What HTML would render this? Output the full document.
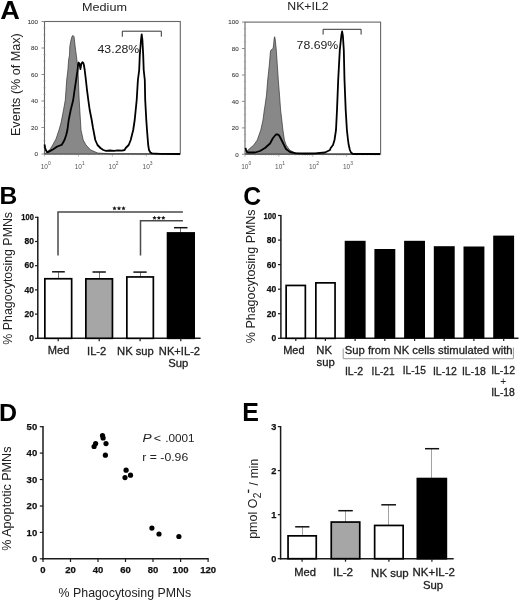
<!DOCTYPE html>
<html><head><meta charset="utf-8"><style>
html,body{margin:0;padding:0;background:#fff;width:520px;height:601px;overflow:hidden;position:relative;font-family:"Liberation Sans", sans-serif;}
</style></head><body>
<svg width="520" height="601" viewBox="0 0 520 601" style="position:absolute;left:0;top:0;filter:grayscale(1)">
<g font-family='"Liberation Sans", sans-serif'>
<rect x="44.5" y="21.5" width="135.8" height="132.5" fill="none" stroke="#666" stroke-width="1.1"/>
<line x1="43.3" y1="28.1" x2="45.7" y2="28.1" stroke="#999" stroke-width="0.6"/>
<line x1="43.3" y1="34.8" x2="45.7" y2="34.8" stroke="#999" stroke-width="0.6"/>
<line x1="43.3" y1="41.4" x2="45.7" y2="41.4" stroke="#999" stroke-width="0.6"/>
<line x1="43.3" y1="54.6" x2="45.7" y2="54.6" stroke="#999" stroke-width="0.6"/>
<line x1="43.3" y1="61.2" x2="45.7" y2="61.2" stroke="#999" stroke-width="0.6"/>
<line x1="43.3" y1="67.9" x2="45.7" y2="67.9" stroke="#999" stroke-width="0.6"/>
<line x1="43.3" y1="81.1" x2="45.7" y2="81.1" stroke="#999" stroke-width="0.6"/>
<line x1="43.3" y1="87.8" x2="45.7" y2="87.8" stroke="#999" stroke-width="0.6"/>
<line x1="43.3" y1="94.4" x2="45.7" y2="94.4" stroke="#999" stroke-width="0.6"/>
<line x1="43.3" y1="107.6" x2="45.7" y2="107.6" stroke="#999" stroke-width="0.6"/>
<line x1="43.3" y1="114.2" x2="45.7" y2="114.2" stroke="#999" stroke-width="0.6"/>
<line x1="43.3" y1="120.9" x2="45.7" y2="120.9" stroke="#999" stroke-width="0.6"/>
<line x1="43.3" y1="134.1" x2="45.7" y2="134.1" stroke="#999" stroke-width="0.6"/>
<line x1="43.3" y1="140.8" x2="45.7" y2="140.8" stroke="#999" stroke-width="0.6"/>
<line x1="43.3" y1="147.4" x2="45.7" y2="147.4" stroke="#999" stroke-width="0.6"/>
<line x1="41.5" y1="21.5" x2="44.5" y2="21.5" stroke="#808080" stroke-width="0.9"/>
<text x="38.00" y="23.80" font-size="6.2" fill="#444" text-anchor="end" stroke="#444" stroke-width="0.12">100</text>
<line x1="41.5" y1="48.0" x2="44.5" y2="48.0" stroke="#808080" stroke-width="0.9"/>
<text x="38.00" y="50.30" font-size="6.2" fill="#444" text-anchor="end" stroke="#444" stroke-width="0.12">80</text>
<line x1="41.5" y1="74.5" x2="44.5" y2="74.5" stroke="#808080" stroke-width="0.9"/>
<text x="38.00" y="76.80" font-size="6.2" fill="#444" text-anchor="end" stroke="#444" stroke-width="0.12">60</text>
<line x1="41.5" y1="101.0" x2="44.5" y2="101.0" stroke="#808080" stroke-width="0.9"/>
<text x="38.00" y="103.30" font-size="6.2" fill="#444" text-anchor="end" stroke="#444" stroke-width="0.12">40</text>
<line x1="41.5" y1="127.5" x2="44.5" y2="127.5" stroke="#808080" stroke-width="0.9"/>
<text x="38.00" y="129.80" font-size="6.2" fill="#444" text-anchor="end" stroke="#444" stroke-width="0.12">20</text>
<line x1="41.5" y1="154.0" x2="44.5" y2="154.0" stroke="#808080" stroke-width="0.9"/>
<text x="38.00" y="156.30" font-size="6.2" fill="#444" text-anchor="end" stroke="#444" stroke-width="0.12">0</text>
<line x1="44.5" y1="154" x2="44.5" y2="156.5" stroke="#999" stroke-width="0.7"/>
<line x1="54.7" y1="154" x2="54.7" y2="155.2" stroke="#999" stroke-width="0.7"/>
<line x1="60.7" y1="154" x2="60.7" y2="155.2" stroke="#999" stroke-width="0.7"/>
<line x1="64.9" y1="154" x2="64.9" y2="155.2" stroke="#999" stroke-width="0.7"/>
<line x1="68.2" y1="154" x2="68.2" y2="155.2" stroke="#999" stroke-width="0.7"/>
<line x1="70.9" y1="154" x2="70.9" y2="155.2" stroke="#999" stroke-width="0.7"/>
<line x1="73.2" y1="154" x2="73.2" y2="155.2" stroke="#999" stroke-width="0.7"/>
<line x1="75.2" y1="154" x2="75.2" y2="155.2" stroke="#999" stroke-width="0.7"/>
<line x1="76.9" y1="154" x2="76.9" y2="155.2" stroke="#999" stroke-width="0.7"/>
<line x1="78.5" y1="154" x2="78.5" y2="156.5" stroke="#999" stroke-width="0.7"/>
<line x1="88.7" y1="154" x2="88.7" y2="155.2" stroke="#999" stroke-width="0.7"/>
<line x1="94.6" y1="154" x2="94.6" y2="155.2" stroke="#999" stroke-width="0.7"/>
<line x1="98.9" y1="154" x2="98.9" y2="155.2" stroke="#999" stroke-width="0.7"/>
<line x1="102.2" y1="154" x2="102.2" y2="155.2" stroke="#999" stroke-width="0.7"/>
<line x1="104.9" y1="154" x2="104.9" y2="155.2" stroke="#999" stroke-width="0.7"/>
<line x1="107.1" y1="154" x2="107.1" y2="155.2" stroke="#999" stroke-width="0.7"/>
<line x1="109.1" y1="154" x2="109.1" y2="155.2" stroke="#999" stroke-width="0.7"/>
<line x1="110.8" y1="154" x2="110.8" y2="155.2" stroke="#999" stroke-width="0.7"/>
<line x1="112.4" y1="154" x2="112.4" y2="156.5" stroke="#999" stroke-width="0.7"/>
<line x1="122.6" y1="154" x2="122.6" y2="155.2" stroke="#999" stroke-width="0.7"/>
<line x1="128.6" y1="154" x2="128.6" y2="155.2" stroke="#999" stroke-width="0.7"/>
<line x1="132.8" y1="154" x2="132.8" y2="155.2" stroke="#999" stroke-width="0.7"/>
<line x1="136.1" y1="154" x2="136.1" y2="155.2" stroke="#999" stroke-width="0.7"/>
<line x1="138.8" y1="154" x2="138.8" y2="155.2" stroke="#999" stroke-width="0.7"/>
<line x1="141.1" y1="154" x2="141.1" y2="155.2" stroke="#999" stroke-width="0.7"/>
<line x1="143.1" y1="154" x2="143.1" y2="155.2" stroke="#999" stroke-width="0.7"/>
<line x1="144.8" y1="154" x2="144.8" y2="155.2" stroke="#999" stroke-width="0.7"/>
<line x1="146.4" y1="154" x2="146.4" y2="156.5" stroke="#999" stroke-width="0.7"/>
<line x1="156.6" y1="154" x2="156.6" y2="155.2" stroke="#999" stroke-width="0.7"/>
<line x1="162.5" y1="154" x2="162.5" y2="155.2" stroke="#999" stroke-width="0.7"/>
<line x1="166.8" y1="154" x2="166.8" y2="155.2" stroke="#999" stroke-width="0.7"/>
<line x1="170.1" y1="154" x2="170.1" y2="155.2" stroke="#999" stroke-width="0.7"/>
<line x1="172.8" y1="154" x2="172.8" y2="155.2" stroke="#999" stroke-width="0.7"/>
<line x1="175.0" y1="154" x2="175.0" y2="155.2" stroke="#999" stroke-width="0.7"/>
<line x1="177.0" y1="154" x2="177.0" y2="155.2" stroke="#999" stroke-width="0.7"/>
<line x1="178.7" y1="154" x2="178.7" y2="155.2" stroke="#999" stroke-width="0.7"/>
<text x="40.7" y="168.5" font-size="6.5" fill="#555">10<tspan dy="-3.5" font-size="5">0</tspan></text>
<text x="74.7" y="168.5" font-size="6.5" fill="#555">10<tspan dy="-3.5" font-size="5">1</tspan></text>
<text x="108.6" y="168.5" font-size="6.5" fill="#555">10<tspan dy="-3.5" font-size="5">2</tspan></text>
<text x="142.6" y="168.5" font-size="6.5" fill="#555">10<tspan dy="-3.5" font-size="5">3</tspan></text>
<polygon points="44.50,154.00 46.00,152.50 50.00,149.50 52.70,145.00 56.00,139.00 59.00,130.00 61.00,123.00 63.50,110.00 65.30,100.00 66.70,80.00 67.90,70.00 68.60,60.00 69.50,55.00 69.80,46.50 71.00,40.00 72.20,36.00 73.00,35.40 74.00,36.50 75.20,46.50 76.90,60.00 78.00,70.00 79.20,100.00 79.80,110.00 81.00,130.00 83.20,140.00 86.00,145.00 90.70,150.00 97.70,153.00 110.00,153.80 180.00,154.00" fill="#888" stroke="#333" stroke-width="0.7" stroke-linejoin="round"/>
<polyline points="44.50,144.50 45.20,148.00 45.70,149.80 46.80,151.80 47.75,152.30 49.80,151.10 53.20,149.20 57.30,146.50 61.60,144.90 62.80,143.00 64.50,140.00 66.20,135.00 67.40,130.00 68.70,120.00 70.70,110.00 73.20,100.00 74.60,90.00 76.10,80.00 77.60,70.00 78.10,64.50 78.60,62.50 79.60,64.00 80.40,69.00 81.30,64.00 82.40,62.20 83.30,63.00 83.90,65.00 84.70,70.00 85.90,80.00 87.00,90.00 88.30,100.00 89.70,110.00 91.70,120.00 93.00,128.00 93.40,130.00 95.30,140.00 97.50,145.00 100.40,148.00 103.30,150.00 106.00,150.80 110.00,150.50 114.00,150.80 118.00,150.30 122.00,150.60 124.60,150.00 125.70,148.00 128.70,145.00 130.70,140.00 133.20,130.00 134.70,120.00 136.70,100.00 137.90,80.00 139.20,70.00 139.80,55.00 141.00,40.00 141.70,34.40 142.40,40.00 143.20,55.00 143.70,70.00 144.80,80.00 145.20,100.00 146.30,120.00 147.00,130.00 147.80,140.00 148.20,145.00 149.00,150.00 150.40,152.50 152.00,153.40 160.00,153.80 180.00,154.00" fill="none" stroke="#000" stroke-width="1.8" stroke-linejoin="round"/>
<polyline points="122.3,36.7 122.3,31.2 161.3,31.2 161.3,36.7" fill="none" stroke="#333" stroke-width="1"/>
<rect x="245.0" y="22.1" width="135.60000000000002" height="132.20000000000002" fill="none" stroke="#666" stroke-width="1.1"/>
<line x1="243.8" y1="28.7" x2="246.2" y2="28.7" stroke="#999" stroke-width="0.6"/>
<line x1="243.8" y1="35.3" x2="246.2" y2="35.3" stroke="#999" stroke-width="0.6"/>
<line x1="243.8" y1="41.9" x2="246.2" y2="41.9" stroke="#999" stroke-width="0.6"/>
<line x1="243.8" y1="55.2" x2="246.2" y2="55.2" stroke="#999" stroke-width="0.6"/>
<line x1="243.8" y1="61.8" x2="246.2" y2="61.8" stroke="#999" stroke-width="0.6"/>
<line x1="243.8" y1="68.4" x2="246.2" y2="68.4" stroke="#999" stroke-width="0.6"/>
<line x1="243.8" y1="81.6" x2="246.2" y2="81.6" stroke="#999" stroke-width="0.6"/>
<line x1="243.8" y1="88.2" x2="246.2" y2="88.2" stroke="#999" stroke-width="0.6"/>
<line x1="243.8" y1="94.8" x2="246.2" y2="94.8" stroke="#999" stroke-width="0.6"/>
<line x1="243.8" y1="108.0" x2="246.2" y2="108.0" stroke="#999" stroke-width="0.6"/>
<line x1="243.8" y1="114.6" x2="246.2" y2="114.6" stroke="#999" stroke-width="0.6"/>
<line x1="243.8" y1="121.2" x2="246.2" y2="121.2" stroke="#999" stroke-width="0.6"/>
<line x1="243.8" y1="134.5" x2="246.2" y2="134.5" stroke="#999" stroke-width="0.6"/>
<line x1="243.8" y1="141.1" x2="246.2" y2="141.1" stroke="#999" stroke-width="0.6"/>
<line x1="243.8" y1="147.7" x2="246.2" y2="147.7" stroke="#999" stroke-width="0.6"/>
<line x1="242.0" y1="22.1" x2="245.0" y2="22.1" stroke="#808080" stroke-width="0.9"/>
<text x="238.60" y="24.40" font-size="6.2" fill="#444" text-anchor="end" stroke="#444" stroke-width="0.12">100</text>
<line x1="242.0" y1="48.5" x2="245.0" y2="48.5" stroke="#808080" stroke-width="0.9"/>
<text x="238.60" y="50.84" font-size="6.2" fill="#444" text-anchor="end" stroke="#444" stroke-width="0.12">80</text>
<line x1="242.0" y1="75.0" x2="245.0" y2="75.0" stroke="#808080" stroke-width="0.9"/>
<text x="238.60" y="77.28" font-size="6.2" fill="#444" text-anchor="end" stroke="#444" stroke-width="0.12">60</text>
<line x1="242.0" y1="101.4" x2="245.0" y2="101.4" stroke="#808080" stroke-width="0.9"/>
<text x="238.60" y="103.72" font-size="6.2" fill="#444" text-anchor="end" stroke="#444" stroke-width="0.12">40</text>
<line x1="242.0" y1="127.9" x2="245.0" y2="127.9" stroke="#808080" stroke-width="0.9"/>
<text x="238.60" y="130.16" font-size="6.2" fill="#444" text-anchor="end" stroke="#444" stroke-width="0.12">20</text>
<line x1="242.0" y1="154.3" x2="245.0" y2="154.3" stroke="#808080" stroke-width="0.9"/>
<text x="238.60" y="156.60" font-size="6.2" fill="#444" text-anchor="end" stroke="#444" stroke-width="0.12">0</text>
<line x1="245.0" y1="154.3" x2="245.0" y2="156.8" stroke="#999" stroke-width="0.7"/>
<line x1="255.2" y1="154.3" x2="255.2" y2="155.5" stroke="#999" stroke-width="0.7"/>
<line x1="261.2" y1="154.3" x2="261.2" y2="155.5" stroke="#999" stroke-width="0.7"/>
<line x1="265.4" y1="154.3" x2="265.4" y2="155.5" stroke="#999" stroke-width="0.7"/>
<line x1="268.7" y1="154.3" x2="268.7" y2="155.5" stroke="#999" stroke-width="0.7"/>
<line x1="271.4" y1="154.3" x2="271.4" y2="155.5" stroke="#999" stroke-width="0.7"/>
<line x1="273.6" y1="154.3" x2="273.6" y2="155.5" stroke="#999" stroke-width="0.7"/>
<line x1="275.6" y1="154.3" x2="275.6" y2="155.5" stroke="#999" stroke-width="0.7"/>
<line x1="277.3" y1="154.3" x2="277.3" y2="155.5" stroke="#999" stroke-width="0.7"/>
<line x1="278.9" y1="154.3" x2="278.9" y2="156.8" stroke="#999" stroke-width="0.7"/>
<line x1="289.1" y1="154.3" x2="289.1" y2="155.5" stroke="#999" stroke-width="0.7"/>
<line x1="295.1" y1="154.3" x2="295.1" y2="155.5" stroke="#999" stroke-width="0.7"/>
<line x1="299.3" y1="154.3" x2="299.3" y2="155.5" stroke="#999" stroke-width="0.7"/>
<line x1="302.6" y1="154.3" x2="302.6" y2="155.5" stroke="#999" stroke-width="0.7"/>
<line x1="305.3" y1="154.3" x2="305.3" y2="155.5" stroke="#999" stroke-width="0.7"/>
<line x1="307.5" y1="154.3" x2="307.5" y2="155.5" stroke="#999" stroke-width="0.7"/>
<line x1="309.5" y1="154.3" x2="309.5" y2="155.5" stroke="#999" stroke-width="0.7"/>
<line x1="311.2" y1="154.3" x2="311.2" y2="155.5" stroke="#999" stroke-width="0.7"/>
<line x1="312.8" y1="154.3" x2="312.8" y2="156.8" stroke="#999" stroke-width="0.7"/>
<line x1="323.0" y1="154.3" x2="323.0" y2="155.5" stroke="#999" stroke-width="0.7"/>
<line x1="329.0" y1="154.3" x2="329.0" y2="155.5" stroke="#999" stroke-width="0.7"/>
<line x1="333.2" y1="154.3" x2="333.2" y2="155.5" stroke="#999" stroke-width="0.7"/>
<line x1="336.5" y1="154.3" x2="336.5" y2="155.5" stroke="#999" stroke-width="0.7"/>
<line x1="339.2" y1="154.3" x2="339.2" y2="155.5" stroke="#999" stroke-width="0.7"/>
<line x1="341.4" y1="154.3" x2="341.4" y2="155.5" stroke="#999" stroke-width="0.7"/>
<line x1="343.4" y1="154.3" x2="343.4" y2="155.5" stroke="#999" stroke-width="0.7"/>
<line x1="345.1" y1="154.3" x2="345.1" y2="155.5" stroke="#999" stroke-width="0.7"/>
<line x1="346.7" y1="154.3" x2="346.7" y2="156.8" stroke="#999" stroke-width="0.7"/>
<line x1="356.9" y1="154.3" x2="356.9" y2="155.5" stroke="#999" stroke-width="0.7"/>
<line x1="362.9" y1="154.3" x2="362.9" y2="155.5" stroke="#999" stroke-width="0.7"/>
<line x1="367.1" y1="154.3" x2="367.1" y2="155.5" stroke="#999" stroke-width="0.7"/>
<line x1="370.4" y1="154.3" x2="370.4" y2="155.5" stroke="#999" stroke-width="0.7"/>
<line x1="373.1" y1="154.3" x2="373.1" y2="155.5" stroke="#999" stroke-width="0.7"/>
<line x1="375.3" y1="154.3" x2="375.3" y2="155.5" stroke="#999" stroke-width="0.7"/>
<line x1="377.3" y1="154.3" x2="377.3" y2="155.5" stroke="#999" stroke-width="0.7"/>
<line x1="379.0" y1="154.3" x2="379.0" y2="155.5" stroke="#999" stroke-width="0.7"/>
<text x="241.2" y="168.8" font-size="6.5" fill="#555">10<tspan dy="-3.5" font-size="5">0</tspan></text>
<text x="275.1" y="168.8" font-size="6.5" fill="#555">10<tspan dy="-3.5" font-size="5">1</tspan></text>
<text x="309.0" y="168.8" font-size="6.5" fill="#555">10<tspan dy="-3.5" font-size="5">2</tspan></text>
<text x="342.9" y="168.8" font-size="6.5" fill="#555">10<tspan dy="-3.5" font-size="5">3</tspan></text>
<polygon points="245.50,154.00 248.00,150.00 253.80,145.00 257.30,140.00 260.80,130.00 263.00,120.00 264.30,110.00 265.10,105.00 266.50,95.00 267.70,80.00 269.30,65.00 270.40,52.00 270.80,50.20 271.80,49.40 273.00,48.70 273.60,45.00 274.10,39.00 274.60,36.70 275.10,38.50 275.70,44.00 276.30,50.00 277.30,65.00 278.30,80.00 279.50,95.00 280.60,110.00 281.80,120.00 282.90,130.00 284.40,140.00 286.10,145.00 289.60,150.00 295.00,153.00 305.00,154.00 380.00,154.00" fill="#888" stroke="#333" stroke-width="0.7" stroke-linejoin="round"/>
<polyline points="245.50,148.00 246.50,151.50 248.00,152.50 255.00,152.50 260.00,151.00 265.00,148.00 270.00,143.50 273.00,138.00 276.00,134.50 277.50,134.30 279.00,135.20 280.00,137.00 283.00,143.00 286.00,149.00 290.00,152.00 296.00,153.30 305.00,153.50 315.00,153.30 325.00,152.50 330.00,150.00 330.70,148.00 333.00,145.00 334.50,140.00 336.00,130.00 337.00,110.00 338.20,80.00 339.80,50.00 341.30,36.00 342.10,31.50 342.90,36.00 343.80,50.00 344.50,80.00 345.70,110.00 346.90,130.00 348.00,140.00 348.70,145.00 349.90,150.00 351.00,152.50 353.00,154.00 380.00,154.00" fill="none" stroke="#000" stroke-width="1.8" stroke-linejoin="round"/>
<polyline points="323.1,34.6 323.1,29.3 361.1,29.3 361.1,34.6" fill="none" stroke="#333" stroke-width="1"/>
<line x1="37.8" y1="216.7" x2="37.8" y2="339.0" stroke="#1a1a1a" stroke-width="1.5"/>
<line x1="37.1" y1="338.3" x2="200.6" y2="338.3" stroke="#1a1a1a" stroke-width="1.4"/>
<line x1="35" y1="338.3" x2="37.8" y2="338.3" stroke="#1a1a1a" stroke-width="1.2"/>
<text x="33.90" y="340.90" font-size="8.5" font-weight="bold" fill="#111" text-anchor="end" stroke="#111" stroke-width="0.25">0</text>
<line x1="35" y1="314.1" x2="37.8" y2="314.1" stroke="#1a1a1a" stroke-width="1.2"/>
<text x="33.90" y="316.70" font-size="8.5" font-weight="bold" fill="#111" text-anchor="end" stroke="#111" stroke-width="0.25">20</text>
<line x1="35" y1="289.9" x2="37.8" y2="289.9" stroke="#1a1a1a" stroke-width="1.2"/>
<text x="33.90" y="292.50" font-size="8.5" font-weight="bold" fill="#111" text-anchor="end" stroke="#111" stroke-width="0.25">40</text>
<line x1="35" y1="265.7" x2="37.8" y2="265.7" stroke="#1a1a1a" stroke-width="1.2"/>
<text x="33.90" y="268.30" font-size="8.5" font-weight="bold" fill="#111" text-anchor="end" stroke="#111" stroke-width="0.25">60</text>
<line x1="35" y1="241.5" x2="37.8" y2="241.5" stroke="#1a1a1a" stroke-width="1.2"/>
<text x="33.90" y="244.10" font-size="8.5" font-weight="bold" fill="#111" text-anchor="end" stroke="#111" stroke-width="0.25">80</text>
<line x1="35" y1="217.3" x2="37.8" y2="217.3" stroke="#1a1a1a" stroke-width="1.2"/>
<text x="33.90" y="219.90" font-size="8.5" font-weight="bold" textLength="12.6" lengthAdjust="spacingAndGlyphs" fill="#111" text-anchor="end" stroke="#111" stroke-width="0.25">100</text>
<line x1="58.5" y1="271.8" x2="58.5" y2="278.9" stroke="#666" stroke-width="0.9"/>
<line x1="52.1" y1="271.8" x2="64.8" y2="271.8" stroke="#111" stroke-width="1.5"/>
<rect x="44.85" y="278.75" width="26.80" height="59.55" fill="#fff" stroke="#000" stroke-width="1.7"/>
<line x1="58.2" y1="338.3" x2="58.2" y2="341.3" stroke="#1a1a1a" stroke-width="1.2"/>
<line x1="99.5" y1="272.0" x2="99.5" y2="279.0" stroke="#666" stroke-width="0.9"/>
<line x1="92.5" y1="272.0" x2="105.8" y2="272.0" stroke="#111" stroke-width="1.5"/>
<rect x="85.85" y="278.85" width="26.60" height="59.45" fill="#a6a6a6" stroke="#000" stroke-width="1.7"/>
<line x1="99.2" y1="338.3" x2="99.2" y2="341.3" stroke="#1a1a1a" stroke-width="1.2"/>
<line x1="140.5" y1="272.1" x2="140.5" y2="277.1" stroke="#666" stroke-width="0.9"/>
<line x1="133.4" y1="272.1" x2="146.7" y2="272.1" stroke="#111" stroke-width="1.5"/>
<rect x="126.85" y="276.95" width="26.50" height="61.35" fill="#fff" stroke="#000" stroke-width="1.7"/>
<line x1="140.1" y1="338.3" x2="140.1" y2="341.3" stroke="#1a1a1a" stroke-width="1.2"/>
<line x1="180.5" y1="227.7" x2="180.5" y2="233.1" stroke="#666" stroke-width="0.9"/>
<line x1="174" y1="227.7" x2="187.5" y2="227.7" stroke="#111" stroke-width="1.5"/>
<rect x="167.55" y="232.95" width="26.60" height="105.35" fill="#000" stroke="#000" stroke-width="1.7"/>
<line x1="180.8" y1="338.3" x2="180.8" y2="341.3" stroke="#1a1a1a" stroke-width="1.2"/>
<polyline points="58,255.4 58,211.9 182.9,211.9" fill="none" stroke="#4a4a4a" stroke-width="1.5"/>
<polyline points="140.5,255.4 140.5,220.7 182.9,220.7" fill="none" stroke="#4a4a4a" stroke-width="1.5"/>
<polygon points="114.50,206.00 115.15,207.41 116.69,207.59 115.55,208.64 115.85,210.16 114.50,209.40 113.15,210.16 113.45,208.64 112.31,207.59 113.85,207.41" fill="#1a1a1a"/>
<polygon points="154.50,215.70 155.15,217.11 156.69,217.29 155.55,218.34 155.85,219.86 154.50,219.10 153.15,219.86 153.45,218.34 152.31,217.29 153.85,217.11" fill="#1a1a1a"/>
<polygon points="119.00,206.00 119.65,207.41 121.19,207.59 120.05,208.64 120.35,210.16 119.00,209.40 117.65,210.16 117.95,208.64 116.81,207.59 118.35,207.41" fill="#1a1a1a"/>
<polygon points="158.90,215.70 159.55,217.11 161.09,217.29 159.95,218.34 160.25,219.86 158.90,219.10 157.55,219.86 157.85,218.34 156.71,217.29 158.25,217.11" fill="#1a1a1a"/>
<polygon points="123.50,206.00 124.15,207.41 125.69,207.59 124.55,208.64 124.85,210.16 123.50,209.40 122.15,210.16 122.45,208.64 121.31,207.59 122.85,207.41" fill="#1a1a1a"/>
<polygon points="163.30,215.70 163.95,217.11 165.49,217.29 164.35,218.34 164.65,219.86 163.30,219.10 161.95,219.86 162.25,218.34 161.11,217.29 162.65,217.11" fill="#1a1a1a"/>
<line x1="280.9" y1="214.9" x2="280.9" y2="339.0" stroke="#1a1a1a" stroke-width="1.5"/>
<line x1="280.2" y1="338.3" x2="518.5" y2="338.3" stroke="#1a1a1a" stroke-width="1.4"/>
<line x1="278" y1="338.3" x2="280.9" y2="338.3" stroke="#1a1a1a" stroke-width="1.2"/>
<text x="276.20" y="341.30" font-size="8.5" font-weight="bold" fill="#111" text-anchor="end" stroke="#111" stroke-width="0.25">0</text>
<line x1="278" y1="313.7" x2="280.9" y2="313.7" stroke="#1a1a1a" stroke-width="1.2"/>
<text x="276.20" y="316.74" font-size="8.5" font-weight="bold" fill="#111" text-anchor="end" stroke="#111" stroke-width="0.25">20</text>
<line x1="278" y1="289.2" x2="280.9" y2="289.2" stroke="#1a1a1a" stroke-width="1.2"/>
<text x="276.20" y="292.18" font-size="8.5" font-weight="bold" fill="#111" text-anchor="end" stroke="#111" stroke-width="0.25">40</text>
<line x1="278" y1="264.6" x2="280.9" y2="264.6" stroke="#1a1a1a" stroke-width="1.2"/>
<text x="276.20" y="267.62" font-size="8.5" font-weight="bold" fill="#111" text-anchor="end" stroke="#111" stroke-width="0.25">60</text>
<line x1="278" y1="240.1" x2="280.9" y2="240.1" stroke="#1a1a1a" stroke-width="1.2"/>
<text x="276.20" y="243.06" font-size="8.5" font-weight="bold" fill="#111" text-anchor="end" stroke="#111" stroke-width="0.25">80</text>
<line x1="278" y1="215.5" x2="280.9" y2="215.5" stroke="#1a1a1a" stroke-width="1.2"/>
<text x="276.20" y="218.50" font-size="8.5" font-weight="bold" textLength="12.8" lengthAdjust="spacingAndGlyphs" fill="#111" text-anchor="end" stroke="#111" stroke-width="0.25">100</text>
<rect x="286.15" y="285.45" width="19.20" height="52.85" fill="#fff" stroke="#000" stroke-width="1.7"/>
<line x1="295.8" y1="338.3" x2="295.8" y2="341.1" stroke="#1a1a1a" stroke-width="1.2"/>
<rect x="315.85" y="282.85" width="19.20" height="55.45" fill="#fff" stroke="#000" stroke-width="1.7"/>
<line x1="325.4" y1="338.3" x2="325.4" y2="341.1" stroke="#1a1a1a" stroke-width="1.2"/>
<rect x="344.70" y="240.80" width="20.90" height="97.50" fill="#000"/>
<line x1="355.1" y1="338.3" x2="355.1" y2="341.1" stroke="#1a1a1a" stroke-width="1.2"/>
<rect x="374.40" y="249.00" width="20.90" height="89.30" fill="#000"/>
<line x1="384.8" y1="338.3" x2="384.8" y2="341.1" stroke="#1a1a1a" stroke-width="1.2"/>
<rect x="404.10" y="240.80" width="20.90" height="97.50" fill="#000"/>
<line x1="414.6" y1="338.3" x2="414.6" y2="341.1" stroke="#1a1a1a" stroke-width="1.2"/>
<rect x="433.80" y="246.20" width="20.90" height="92.10" fill="#000"/>
<line x1="444.2" y1="338.3" x2="444.2" y2="341.1" stroke="#1a1a1a" stroke-width="1.2"/>
<rect x="463.50" y="246.50" width="20.90" height="91.80" fill="#000"/>
<line x1="473.9" y1="338.3" x2="473.9" y2="341.1" stroke="#1a1a1a" stroke-width="1.2"/>
<rect x="493.20" y="235.60" width="20.90" height="102.70" fill="#000"/>
<line x1="503.7" y1="338.3" x2="503.7" y2="341.1" stroke="#1a1a1a" stroke-width="1.2"/>
<polyline points="343.2,348.5 343.2,358.7 513.4,358.7 513.4,347.5" fill="none" stroke="#999" stroke-width="1"/>
<text x="503.3" y="384.9" font-size="10.2" fill="#222" text-anchor="middle">+</text>
<line x1="43" y1="426.1" x2="43" y2="559.5" stroke="#1a1a1a" stroke-width="1.5"/>
<line x1="42.3" y1="558.8" x2="208.7" y2="558.8" stroke="#1a1a1a" stroke-width="1.4"/>
<line x1="39.8" y1="558.8" x2="43" y2="558.8" stroke="#1a1a1a" stroke-width="1.2"/>
<text x="37.20" y="562.15" font-size="9.5" font-weight="bold" fill="#111" text-anchor="end" stroke="#111" stroke-width="0.25">0</text>
<line x1="39.8" y1="532.4" x2="43" y2="532.4" stroke="#1a1a1a" stroke-width="1.2"/>
<text x="37.20" y="535.73" font-size="9.5" font-weight="bold" fill="#111" text-anchor="end" stroke="#111" stroke-width="0.25">10</text>
<line x1="39.8" y1="506.0" x2="43" y2="506.0" stroke="#1a1a1a" stroke-width="1.2"/>
<text x="37.20" y="509.31" font-size="9.5" font-weight="bold" fill="#111" text-anchor="end" stroke="#111" stroke-width="0.25">20</text>
<line x1="39.8" y1="479.5" x2="43" y2="479.5" stroke="#1a1a1a" stroke-width="1.2"/>
<text x="37.20" y="482.89" font-size="9.5" font-weight="bold" fill="#111" text-anchor="end" stroke="#111" stroke-width="0.25">30</text>
<line x1="39.8" y1="453.1" x2="43" y2="453.1" stroke="#1a1a1a" stroke-width="1.2"/>
<text x="37.20" y="456.47" font-size="9.5" font-weight="bold" fill="#111" text-anchor="end" stroke="#111" stroke-width="0.25">40</text>
<line x1="39.8" y1="426.7" x2="43" y2="426.7" stroke="#1a1a1a" stroke-width="1.2"/>
<text x="37.20" y="430.05" font-size="9.5" font-weight="bold" fill="#111" text-anchor="end" stroke="#111" stroke-width="0.25">50</text>
<line x1="43.0" y1="558.8" x2="43.0" y2="562.0" stroke="#1a1a1a" stroke-width="1.2"/>
<text x="42.95" y="573.30" font-size="9.5" font-weight="bold" fill="#111" text-anchor="middle" stroke="#111" stroke-width="0.25">0</text>
<line x1="70.5" y1="558.8" x2="70.5" y2="562.0" stroke="#1a1a1a" stroke-width="1.2"/>
<text x="70.47" y="573.30" font-size="9.5" font-weight="bold" fill="#111" text-anchor="middle" stroke="#111" stroke-width="0.25">20</text>
<line x1="98.0" y1="558.8" x2="98.0" y2="562.0" stroke="#1a1a1a" stroke-width="1.2"/>
<text x="97.99" y="573.30" font-size="9.5" font-weight="bold" fill="#111" text-anchor="middle" stroke="#111" stroke-width="0.25">40</text>
<line x1="125.5" y1="558.8" x2="125.5" y2="562.0" stroke="#1a1a1a" stroke-width="1.2"/>
<text x="125.51" y="573.30" font-size="9.5" font-weight="bold" fill="#111" text-anchor="middle" stroke="#111" stroke-width="0.25">60</text>
<line x1="153.0" y1="558.8" x2="153.0" y2="562.0" stroke="#1a1a1a" stroke-width="1.2"/>
<text x="153.03" y="573.30" font-size="9.5" font-weight="bold" fill="#111" text-anchor="middle" stroke="#111" stroke-width="0.25">80</text>
<line x1="180.6" y1="558.8" x2="180.6" y2="562.0" stroke="#1a1a1a" stroke-width="1.2"/>
<text x="180.55" y="573.30" font-size="9.5" font-weight="bold" fill="#111" text-anchor="middle" stroke="#111" stroke-width="0.25">100</text>
<line x1="208.1" y1="558.8" x2="208.1" y2="562.0" stroke="#1a1a1a" stroke-width="1.2"/>
<text x="208.07" y="573.30" font-size="9.5" font-weight="bold" fill="#111" text-anchor="middle" stroke="#111" stroke-width="0.25">120</text>
<circle cx="102.5" cy="435.6" r="2.6" fill="#000"/>
<circle cx="103.1" cy="437.9" r="2.6" fill="#000"/>
<circle cx="95.6" cy="443.6" r="2.6" fill="#000"/>
<circle cx="94.1" cy="446.5" r="2.6" fill="#000"/>
<circle cx="106" cy="443.6" r="2.6" fill="#000"/>
<circle cx="105.4" cy="455.2" r="2.6" fill="#000"/>
<circle cx="126.1" cy="470.2" r="2.6" fill="#000"/>
<circle cx="130.5" cy="475.2" r="2.6" fill="#000"/>
<circle cx="125" cy="477.6" r="2.6" fill="#000"/>
<circle cx="151.9" cy="528.1" r="2.6" fill="#000"/>
<circle cx="159" cy="534" r="2.6" fill="#000"/>
<circle cx="178.9" cy="536.5" r="2.6" fill="#000"/>
<line x1="280.6" y1="426.0" x2="280.6" y2="559.4" stroke="#1a1a1a" stroke-width="1.5"/>
<line x1="279.9" y1="558.7" x2="453.7" y2="558.7" stroke="#1a1a1a" stroke-width="1.4"/>
<line x1="277.8" y1="558.7" x2="280.6" y2="558.7" stroke="#1a1a1a" stroke-width="1.2"/>
<text x="276.30" y="561.80" font-size="9.2" font-weight="bold" fill="#111" text-anchor="end" stroke="#111" stroke-width="0.25">0</text>
<line x1="277.8" y1="514.7" x2="280.6" y2="514.7" stroke="#1a1a1a" stroke-width="1.2"/>
<text x="276.30" y="517.75" font-size="9.2" font-weight="bold" fill="#111" text-anchor="end" stroke="#111" stroke-width="0.25">1</text>
<line x1="277.8" y1="470.6" x2="280.6" y2="470.6" stroke="#1a1a1a" stroke-width="1.2"/>
<text x="276.30" y="473.70" font-size="9.2" font-weight="bold" fill="#111" text-anchor="end" stroke="#111" stroke-width="0.25">2</text>
<line x1="277.8" y1="426.6" x2="280.6" y2="426.6" stroke="#1a1a1a" stroke-width="1.2"/>
<text x="276.30" y="429.65" font-size="9.2" font-weight="bold" fill="#111" text-anchor="end" stroke="#111" stroke-width="0.25">3</text>
<line x1="302.5" y1="526.8" x2="302.5" y2="536.0" stroke="#999" stroke-width="0.9"/>
<line x1="295.2" y1="526.8" x2="309.4" y2="526.8" stroke="#111" stroke-width="1.5"/>
<rect x="288.05" y="535.85" width="28.20" height="22.85" fill="#fff" stroke="#000" stroke-width="1.7"/>
<line x1="302.1" y1="558.7" x2="302.1" y2="561.7" stroke="#1a1a1a" stroke-width="1.2"/>
<line x1="345.5" y1="510.7" x2="345.5" y2="522.2" stroke="#999" stroke-width="0.9"/>
<line x1="338.3" y1="510.7" x2="352.8" y2="510.7" stroke="#111" stroke-width="1.5"/>
<rect x="331.25" y="522.05" width="28.50" height="36.65" fill="#a6a6a6" stroke="#000" stroke-width="1.7"/>
<line x1="345.5" y1="558.7" x2="345.5" y2="561.7" stroke="#1a1a1a" stroke-width="1.2"/>
<line x1="388.5" y1="504.8" x2="388.5" y2="525.6" stroke="#999" stroke-width="0.9"/>
<line x1="381.3" y1="504.8" x2="396" y2="504.8" stroke="#111" stroke-width="1.5"/>
<rect x="374.65" y="525.45" width="28.50" height="33.25" fill="#fff" stroke="#000" stroke-width="1.7"/>
<line x1="388.9" y1="558.7" x2="388.9" y2="561.7" stroke="#1a1a1a" stroke-width="1.2"/>
<line x1="431.5" y1="448.7" x2="431.5" y2="478.7" stroke="#999" stroke-width="0.9"/>
<line x1="425" y1="448.7" x2="439.1" y2="448.7" stroke="#111" stroke-width="1.5"/>
<rect x="417.35" y="478.55" width="29.00" height="80.15" fill="#000" stroke="#000" stroke-width="1.7"/>
<line x1="431.9" y1="558.7" x2="431.9" y2="561.7" stroke="#1a1a1a" stroke-width="1.2"/>
<text transform="translate(260.9,498.2) rotate(-90)" font-size="10.2" fill="#222">2</text>
<line x1="248.5" y1="492.9" x2="248.5" y2="489.5" stroke="#222" stroke-width="1.3"/>
<text x="0.22" y="19.01" font-size="25.00" fill="#000" font-weight="bold" textLength="19.61" lengthAdjust="spacingAndGlyphs">A</text>
<text x="-0.38" y="204.42" font-size="24.60" fill="#000" font-weight="bold" textLength="17.74" lengthAdjust="spacingAndGlyphs">B</text>
<text x="243.32" y="204.71" font-size="25.00" fill="#000" font-weight="bold" textLength="17.87" lengthAdjust="spacingAndGlyphs">C</text>
<text x="-0.95" y="420.59" font-size="24.80" fill="#000" font-weight="bold" textLength="18.05" lengthAdjust="spacingAndGlyphs">D</text>
<text x="242.29" y="420.71" font-size="26.00" fill="#000" font-weight="bold" textLength="16.65" lengthAdjust="spacingAndGlyphs">E</text>
<text x="82.09" y="11.09" font-size="11.80" fill="#222" textLength="44.86" lengthAdjust="spacingAndGlyphs">Medium</text>
<text x="287.28" y="9.94" font-size="11.80" fill="#222" textLength="41.42" lengthAdjust="spacingAndGlyphs">NK+IL2</text>
<text x="97.52" y="52.50" font-size="11.80" fill="#222" textLength="41.75" lengthAdjust="spacingAndGlyphs">43.28%</text>
<text x="296.58" y="49.18" font-size="11.80" fill="#222" textLength="41.67" lengthAdjust="spacingAndGlyphs">78.69%</text>
<text transform="translate(19.64,136.02) rotate(-90)" font-size="12.20" fill="#222" textLength="102.69" lengthAdjust="spacingAndGlyphs">Events (% of Max)</text>
<text x="47.80" y="354.14" font-size="11.00" fill="#222" textLength="21.57" lengthAdjust="spacingAndGlyphs" stroke="#222" stroke-width="0.3">Med</text>
<text x="87.07" y="354.84" font-size="11.00" fill="#222" textLength="19.19" lengthAdjust="spacingAndGlyphs" stroke="#222" stroke-width="0.3">IL-2</text>
<text x="117.13" y="354.50" font-size="11.00" fill="#222" textLength="36.64" lengthAdjust="spacingAndGlyphs" stroke="#222" stroke-width="0.3">NK sup</text>
<text x="158.87" y="354.52" font-size="11.00" fill="#222" textLength="41.19" lengthAdjust="spacingAndGlyphs" stroke="#222" stroke-width="0.3">NK+IL-2</text>
<text x="168.22" y="367.08" font-size="11.00" fill="#222" textLength="20.07" lengthAdjust="spacingAndGlyphs" stroke="#222" stroke-width="0.3">Sup</text>
<text transform="translate(11.94,344.67) rotate(-90)" font-size="12.20" fill="#222" textLength="132.74" lengthAdjust="spacingAndGlyphs">% Phagocytosing PMNs</text>
<text x="283.19" y="353.80" font-size="10.60" fill="#222" textLength="21.44" lengthAdjust="spacingAndGlyphs" stroke="#222" stroke-width="0.3">Med</text>
<text x="316.34" y="354.16" font-size="10.60" fill="#222" textLength="15.65" lengthAdjust="spacingAndGlyphs" stroke="#222" stroke-width="0.3">NK</text>
<text x="316.53" y="366.47" font-size="10.60" fill="#222" textLength="18.24" lengthAdjust="spacingAndGlyphs" stroke="#222" stroke-width="0.3">sup</text>
<text x="344.74" y="354.24" font-size="10.90" fill="#222" textLength="167.82" lengthAdjust="spacingAndGlyphs" stroke="#222" stroke-width="0.3">Sup from NK cells stimulated with</text>
<text x="344.93" y="374.64" font-size="10.20" fill="#222" textLength="18.18" lengthAdjust="spacingAndGlyphs" stroke="#222" stroke-width="0.3">IL-2</text>
<text x="371.62" y="374.67" font-size="10.20" fill="#222" textLength="22.92" lengthAdjust="spacingAndGlyphs" stroke="#222" stroke-width="0.3">IL-21</text>
<text x="402.79" y="374.21" font-size="10.20" fill="#222" textLength="23.11" lengthAdjust="spacingAndGlyphs" stroke="#222" stroke-width="0.3">IL-15</text>
<text x="432.97" y="374.63" font-size="10.20" fill="#222" textLength="23.84" lengthAdjust="spacingAndGlyphs" stroke="#222" stroke-width="0.3">IL-12</text>
<text x="461.97" y="374.57" font-size="10.20" fill="#222" textLength="23.83" lengthAdjust="spacingAndGlyphs" stroke="#222" stroke-width="0.3">IL-18</text>
<text x="491.20" y="374.02" font-size="10.20" fill="#222" textLength="23.75" lengthAdjust="spacingAndGlyphs" stroke="#222" stroke-width="0.3">IL-12</text>
<text x="491.24" y="396.42" font-size="10.20" fill="#222" textLength="23.64" lengthAdjust="spacingAndGlyphs" stroke="#222" stroke-width="0.3">IL-18</text>
<text transform="translate(255.44,343.14) rotate(-90)" font-size="12.20" fill="#222" textLength="133.72" lengthAdjust="spacingAndGlyphs">% Phagocytosing PMNs</text>
<text x="142.37" y="461.01" font-size="11.40" fill="#222" textLength="45.85" lengthAdjust="spacingAndGlyphs">r = -0.96</text>
<text transform="translate(11.15,550.78) rotate(-90)" font-size="12.20" fill="#222" textLength="104.29" lengthAdjust="spacingAndGlyphs">% Apoptotic PMNs</text>
<text x="58.62" y="597.27" font-size="12.20" fill="#222" textLength="132.52" lengthAdjust="spacingAndGlyphs">% Phagocytosing PMNs</text>
<text x="294.29" y="576.41" font-size="10.70" fill="#222" textLength="21.72" lengthAdjust="spacingAndGlyphs" stroke="#222" stroke-width="0.3">Med</text>
<text x="332.94" y="576.08" font-size="10.70" fill="#222" textLength="20.15" lengthAdjust="spacingAndGlyphs" stroke="#222" stroke-width="0.3">IL-2</text>
<text x="371.14" y="577.15" font-size="10.70" fill="#222" textLength="37.49" lengthAdjust="spacingAndGlyphs" stroke="#222" stroke-width="0.3">NK sup</text>
<text x="412.53" y="576.26" font-size="10.70" fill="#222" textLength="42.42" lengthAdjust="spacingAndGlyphs" stroke="#222" stroke-width="0.3">NK+IL-2</text>
<text x="423.00" y="589.36" font-size="10.70" fill="#222" textLength="20.19" lengthAdjust="spacingAndGlyphs" stroke="#222" stroke-width="0.3">Sup</text>
<text x="142.51" y="442.43" font-size="11.20" fill="#222" font-style="italic" textLength="9.17" lengthAdjust="spacingAndGlyphs">P</text>
<text x="153.81" y="441.62" font-size="11.20" fill="#222" textLength="7.33" lengthAdjust="spacingAndGlyphs">&lt;</text>
<text x="165.24" y="442.03" font-size="11.20" fill="#222" textLength="29.41" lengthAdjust="spacingAndGlyphs">.0001</text>
<text transform="translate(256.68,538.80) rotate(-90)" font-size="12.40" fill="#222" textLength="40.11" lengthAdjust="spacingAndGlyphs">pmol O</text>
<text transform="translate(257.55,485.53) rotate(-90)" font-size="12.40" fill="#222" textLength="3.25" lengthAdjust="spacingAndGlyphs">/</text>
<text transform="translate(258.17,478.24) rotate(-90)" font-size="12.40" fill="#222" textLength="19.34" lengthAdjust="spacingAndGlyphs">min</text>
</g></svg>
</body></html>
